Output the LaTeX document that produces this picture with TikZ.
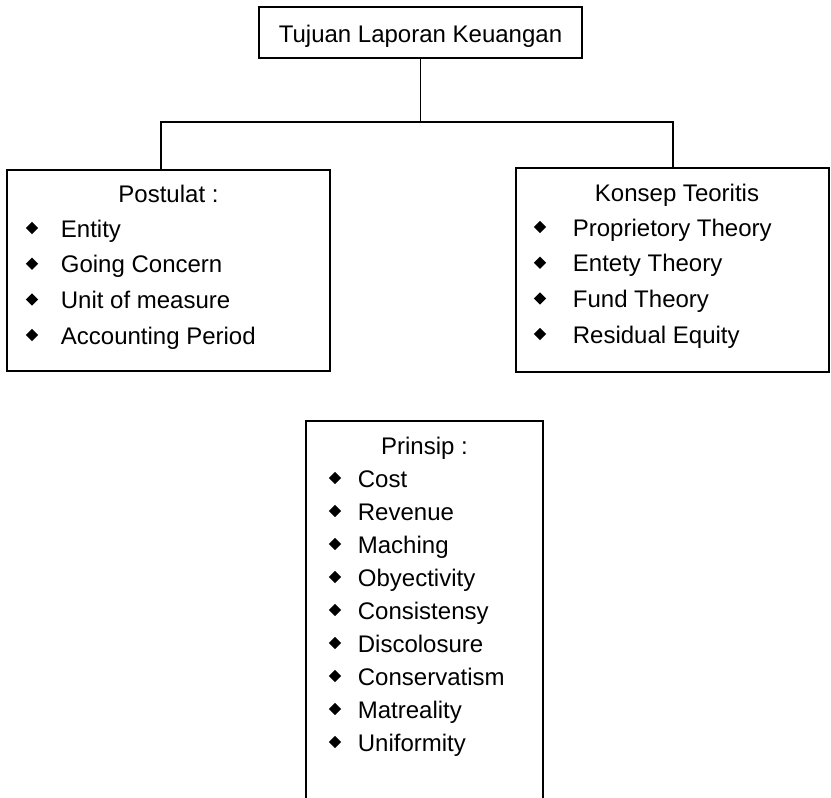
\documentclass[tikz,border=0pt]{standalone}
\usepackage{fontspec}
\setmainfont{Liberation Sans}
\usetikzlibrary{shapes.geometric}
\begin{document}
\begin{tikzpicture}[x=1pt,y=-1pt,
  line width=1.8pt,
  boxsty/.style={draw, rectangle, inner sep=0pt},
  txt/.style={anchor=base, inner sep=0pt, font=\fontsize{24}{28}\selectfont},
  itm/.style={anchor=base west, inner sep=0pt, font=\fontsize{24}{28}\selectfont},
  bul/.style={diamond, fill=black, draw=none, inner sep=0pt, minimum size=13pt}]
\useasboundingbox (0,0) rectangle (831,798);
% top box
\node[boxsty, minimum width=323pt, minimum height=51pt] (top) at (420.5,32.5) {};
\node[txt] (toptxt) at (420.5,42) {Tujuan Laporan Keuangan};
% left box
\node[boxsty, minimum width=323pt, minimum height=201pt] (lbox) at (168.5,270.5) {};
\node[txt] (lhead) at (168.5,202) {Postulat :};
\foreach \t [count=\i from 0] in {Entity,Going Concern,Unit of measure,Accounting Period}{
  \node[itm] (l\i) at (60,237+35.7*\i) {\t};
  \node[bul] (lb\i) at (32,228+35.7*\i) {};
}
% right box
\node[boxsty, minimum width=313pt, minimum height=204pt] (rbox) at (672.5,270) {};
\node[txt] (rhead) at (677,201) {Konsep Teoritis};
\foreach \t [count=\i from 0] in {Proprietory Theory,Entety Theory,Fund Theory,Residual Equity}{
  \node[itm] (r\i) at (572,236+35.7*\i) {\t};
  \node[bul] (rb\i) at (540,227+35.7*\i) {};
}
% connectors
\coordinate (hl) at (161,122);
\coordinate (hr) at (673,122);
\draw (top.south) -- (top.south |- hl);
\draw (lbox.north -| hl) -- (hl) -- (hr) -- (rbox.north -| hr);
% bottom box (open at the bottom)
\path node[rectangle, inner sep=0pt, minimum width=235pt, minimum height=380pt] (pbox) at (424.5,612) {};
\draw (pbox.south west) -- (pbox.north west) -- (pbox.north east) -- (pbox.south east);
\node[txt] (phead) at (424.5,454) {Prinsip :};
\foreach \t [count=\i from 0] in {Cost,Revenue,Maching,Obyectivity,Consistensy,Discolosure,Conservatism,Matreality,Uniformity}{
  \node[itm] (p\i) at (357,487+33*\i) {\t};
  \node[bul] (pb\i) at (335,478+33*\i) {};
}
\end{tikzpicture}
\end{document}
